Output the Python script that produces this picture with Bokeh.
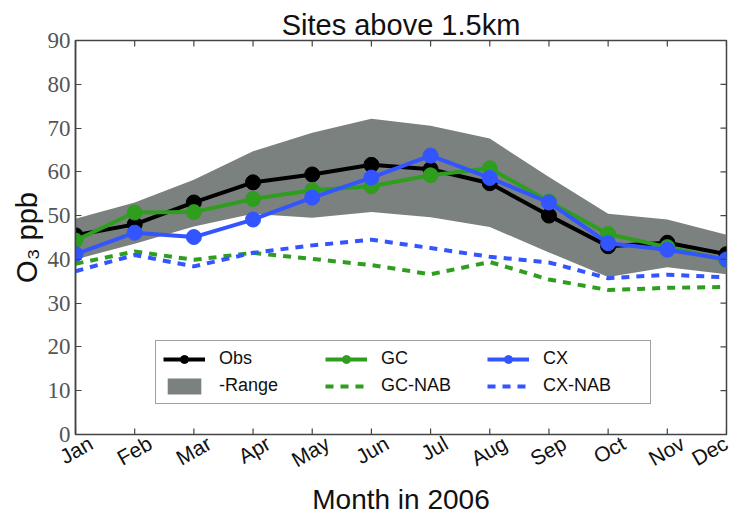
import math
from bokeh.plotting import figure
from bokeh.models import (Range1d, FixedTicker, Legend, LegendItem, ColumnDataSource,
                          LinearAxis)
from bokeh.embed import file_html
from bokeh.resources import INLINE

months = ["Jan", "Feb", "Mar", "Apr", "May", "Jun", "Jul", "Aug", "Sep", "Oct", "Nov", "Dec"]
month_idx = list(range(12))
obs = [45.5, 48.0, 53.0, 57.6, 59.4, 61.6, 60.6, 57.4, 50.0, 43.0, 43.8, 41.2]
gc = [44.3, 50.7, 50.8, 53.8, 55.8, 56.7, 59.2, 60.8, 53.2, 45.8, 42.8, 39.8]
cx = [41.2, 46.1, 45.1, 49.1, 54.1, 58.7, 63.7, 58.6, 53.0, 43.7, 42.2, 40.0]
range_hi = [49.3, 53.0, 58.2, 64.7, 68.9, 72.1, 70.5, 67.6, 58.8, 50.4, 49.1, 45.6]
range_lo = [40.0, 43.6, 47.5, 50.4, 49.5, 50.8, 49.6, 47.4, 41.6, 36.0, 38.2, 36.6]
gc_nab = [39.0, 41.8, 39.9, 41.5, 40.1, 38.7, 36.6, 39.4, 35.4, 33.0, 33.5, 33.7]
cx_nab = [37.3, 41.0, 38.4, 41.5, 43.2, 44.5, 42.6, 40.6, 39.3, 35.7, 36.5, 35.9]
y_ticks = [0, 10, 20, 30, 40, 50, 60, 70, 80, 90]

src = ColumnDataSource(dict(x=month_idx, obs=obs, gc=gc, cx=cx,
                            hi=range_hi, lo=range_lo, gcn=gc_nab, cxn=cx_nab))

GREY = "#7b817f"
GREEN = "#2f9e1f"
BLUE = "#3355ff"
AX = "#444444"
TXT = "#111111"

x_lo, x_hi = month_idx[0], month_idx[-1]
y_lo, y_hi = y_ticks[0], y_ticks[-1]

p = figure(width=748, height=518, output_backend="svg", toolbar_location=None,
           x_range=Range1d(x_lo, x_hi), y_range=Range1d(y_lo, y_hi),
           min_border_left=75, min_border_right=22, min_border_top=40, min_border_bottom=83)

p.title.text = "Sites above 1.5km"
p.title.align = "center"
p.title.text_font = "Liberation Sans"
p.title.text_font_size = "29px"
p.title.text_font_style = "normal"
p.title.text_color = TXT
p.title.standoff = 0

p.xgrid.visible = False
p.ygrid.visible = False
p.outline_line_color = AX
p.outline_line_width = 1.5

r_range = p.varea(x="x", y1="lo", y2="hi", source=src, fill_color=GREY, fill_alpha=1.0)
r_gcn = p.line(x="x", y="gcn", source=src, line_color=GREEN, line_width=4, line_dash="8 7")
r_cxn = p.line(x="x", y="cxn", source=src, line_color=BLUE, line_width=4, line_dash="8 7")
r_obs_l = p.line(x="x", y="obs", source=src, line_color="black", line_width=4)
r_obs_m = p.scatter(x="x", y="obs", source=src, size=15, fill_color="black", line_color="black")
r_gc_l = p.line(x="x", y="gc", source=src, line_color=GREEN, line_width=4)
r_gc_m = p.scatter(x="x", y="gc", source=src, size=15, fill_color=GREEN, line_color=GREEN)
r_cx_l = p.line(x="x", y="cx", source=src, line_color=BLUE, line_width=4)
r_cx_m = p.scatter(x="x", y="cx", source=src, size=15, fill_color=BLUE, line_color=BLUE)

# inward tick marks on the bottom, top and right edges (screen-length rays)
TICK = 6
p.ray(x=month_idx, y=[y_lo] * len(month_idx), length=TICK, length_units="screen",
      angle=math.pi / 2, line_color=AX, line_width=1.2)
p.ray(x=month_idx, y=[y_hi] * len(month_idx), length=TICK, length_units="screen",
      angle=-math.pi / 2, line_color=AX, line_width=1.2)
p.ray(x=[x_hi] * len(y_ticks), y=y_ticks, length=TICK, length_units="screen",
      angle=math.pi, line_color=AX, line_width=1.2)

# default x axis hidden; month labels come from an axis on a slightly shifted range so
# that the rotated (right-anchored) labels sit centred under the ticks.  The last label
# is pinned to the end of that range, since a tick beyond it would be dropped.
p.xaxis.visible = False
shift = 0.26
p.extra_x_ranges = {"lab": Range1d(x_lo - shift, x_hi - shift)}
label_pos = month_idx[:-1] + [round(x_hi - shift - 0.01, 2)]
xlab = LinearAxis(x_range_name="lab", ticker=FixedTicker(ticks=label_pos))
xlab.major_label_overrides = {t: m for t, m in zip(label_pos, months)}
xlab.major_label_orientation = 0.52
xlab.major_label_text_font = "Liberation Sans"
xlab.major_label_text_font_size = "21px"
xlab.major_label_text_color = TXT
xlab.major_label_standoff = 7
xlab.axis_line_color = None
xlab.major_tick_line_color = None
xlab.major_tick_in = 0
xlab.major_tick_out = 0
xlab.minor_tick_line_color = None
xlab.axis_label = "Month in 2006"
xlab.axis_label_text_font = "Liberation Sans"
xlab.axis_label_text_font_size = "28px"
xlab.axis_label_text_font_style = "normal"
xlab.axis_label_text_color = TXT
xlab.axis_label_standoff = 0
p.add_layout(xlab, "below")

yax = p.yaxis[0]
yax.ticker = FixedTicker(ticks=y_ticks)
yax.axis_line_color = AX
yax.axis_line_width = 1.5
yax.major_tick_line_color = AX
yax.major_tick_line_width = 1.2
yax.major_tick_in = TICK
yax.major_tick_out = 0
yax.minor_tick_line_color = None
yax.major_label_text_font = "Liberation Serif"
yax.major_label_text_font_size = "23px"
yax.major_label_text_color = "#555555"
yax.major_label_standoff = 5
yax.axis_label = "O\u2083 ppb"
yax.axis_label_text_font = "Liberation Sans"
yax.axis_label_text_font_size = "29px"
yax.axis_label_text_font_style = "normal"
yax.axis_label_text_color = TXT
yax.axis_label_standoff = 2

legend = Legend(items=[
    LegendItem(label="Obs", renderers=[r_obs_l, r_obs_m]),
    LegendItem(label="-Range", renderers=[r_range]),
    LegendItem(label="GC", renderers=[r_gc_l, r_gc_m]),
    LegendItem(label="GC-NAB", renderers=[r_gcn]),
    LegendItem(label="CX", renderers=[r_cx_l, r_cx_m]),
    LegendItem(label="CX-NAB", renderers=[r_cxn]),
], location=(80, 30), nrows=2, ncols=3)
legend.label_text_font = "Liberation Sans"
legend.label_text_font_size = "18px"
legend.label_text_color = TXT
legend.glyph_width = 42
legend.glyph_height = 20
legend.label_width = 100
legend.label_height = 20
legend.label_standoff = 14
legend.spacing = 6
legend.padding = 7
legend.margin = 0
legend.border_line_color = AX
legend.border_line_width = 1.5
legend.background_fill_alpha = 1.0
p.add_layout(legend, "center")

open("out.html", "w").write(file_html(p, INLINE))
